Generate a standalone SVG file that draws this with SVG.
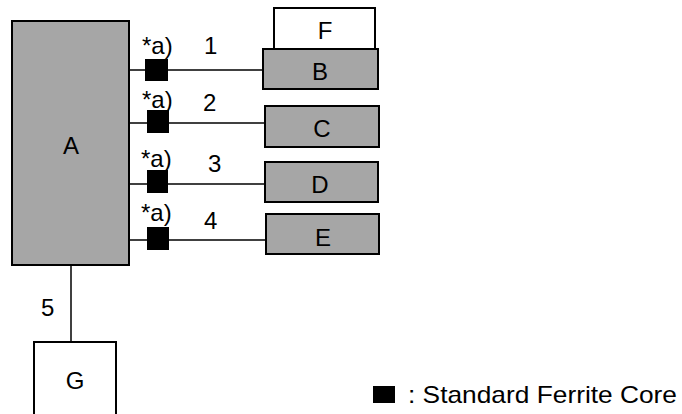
<svg xmlns="http://www.w3.org/2000/svg" width="682" height="414" viewBox="0 0 682 414">
<style>
.box{fill:#a6a6a6;stroke:#000;stroke-width:2}
.wbox{fill:#fff;stroke:#000;stroke-width:2}
.ln{stroke:#000;stroke-width:1.5;fill:none}
.core{fill:#000}
text{font-family:"Liberation Sans",Arial,sans-serif;font-size:24px;fill:#000}
.c{text-anchor:middle}
</style>
<rect width="682" height="414" fill="#fff"/>
<g id="connectors">
<line class="ln" x1="129" y1="70" x2="263" y2="70"/>
<line class="ln" x1="129" y1="123" x2="265" y2="123"/>
<line class="ln" x1="129" y1="184" x2="265" y2="184"/>
<line class="ln" x1="129" y1="240" x2="266" y2="240"/>
<line class="ln" x1="71" y1="265" x2="71" y2="342"/>
<rect class="core" x="145" y="59" width="23" height="22"/>
<rect class="core" x="147" y="110" width="22" height="23"/>
<rect class="core" x="147" y="170" width="21" height="23"/>
<rect class="core" x="147" y="227" width="22" height="23"/>
<text x="142" y="54">*a)</text>
<text x="142" y="108">*a)</text>
<text x="141" y="167">*a)</text>
<text x="141" y="221">*a)</text>
<text x="204" y="54">1</text>
<text x="203" y="111">2</text>
<text x="208" y="172">3</text>
<text x="204" y="229">4</text>
<text x="41" y="316">5</text>
</g>
<g id="A"><rect class="box" x="12" y="21" width="117" height="244"/><text class="c" x="71" y="154">A</text></g>
<g id="F"><rect class="wbox" x="274" y="8" width="101" height="41"/><text class="c" x="325" y="39">F</text></g>
<g id="B"><rect class="box" x="263" y="49" width="115" height="40"/><text class="c" x="320" y="80">B</text></g>
<g id="C"><rect class="box" x="265" y="106" width="114" height="41"/><text class="c" x="322" y="137">C</text></g>
<g id="D"><rect class="box" x="265" y="162" width="113" height="40"/><text class="c" x="320" y="193">D</text></g>
<g id="E"><rect class="box" x="266" y="214" width="113" height="40"/><text class="c" x="323" y="246">E</text></g>
<g id="G"><rect class="wbox" x="34" y="342" width="82" height="80"/><text class="c" x="75" y="389">G</text></g>
<g id="legend"><rect class="core" x="373" y="386" width="22" height="17"/><text x="408" y="403" style="font-size:24px" textLength="269" lengthAdjust="spacingAndGlyphs">: Standard Ferrite Core</text></g>
</svg>
